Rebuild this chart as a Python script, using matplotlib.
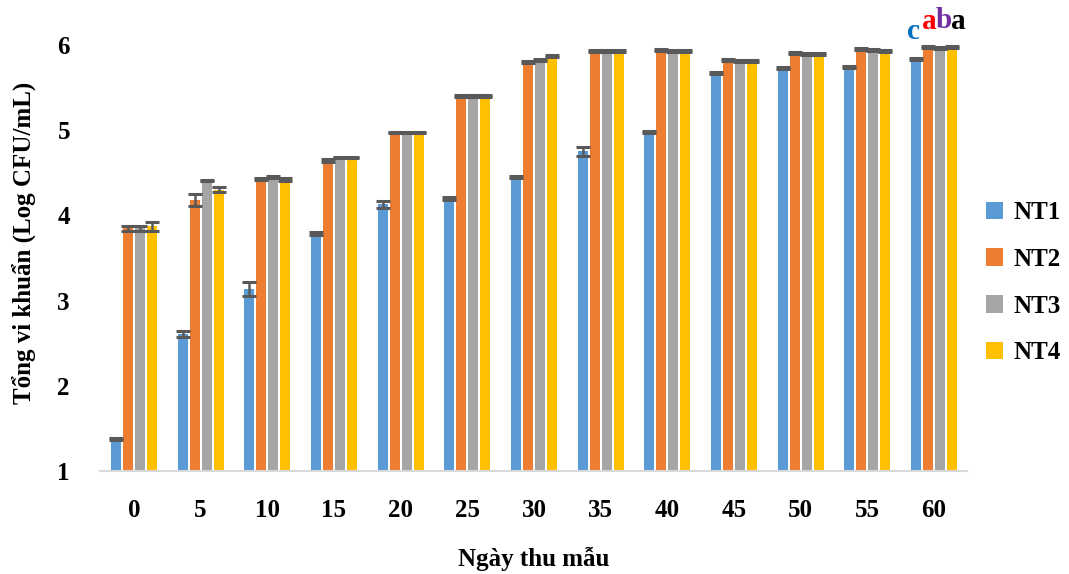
import matplotlib.pyplot as plt
import numpy as np

plt.rcParams['font.family'] = ['Liberation Serif', 'DejaVu Serif']
plt.rcParams['font.weight'] = 'bold'

days = ['0', '5', '10', '15', '20', '25', '30', '35', '40', '45', '50', '55', '60']
nt1 = [1.38, 2.61, 3.14, 3.79, 4.13, 4.20, 4.45, 4.75, 4.98, 5.67, 5.73, 5.74, 5.83]
nt2 = [3.85, 4.18, 4.43, 4.64, 4.97, 5.40, 5.80, 5.93, 5.94, 5.82, 5.90, 5.95, 5.97]
nt3 = [3.85, 4.41, 4.45, 4.68, 4.97, 5.40, 5.82, 5.93, 5.93, 5.81, 5.89, 5.94, 5.96]
nt4 = [3.87, 4.30, 4.42, 4.68, 4.97, 5.40, 5.87, 5.93, 5.93, 5.81, 5.89, 5.93, 5.97]
err1 = [0.01, 0.04, 0.08, 0.02, 0.04, 0.02, 0.01, 0.05, 0.01, 0.01, 0.01, 0.01, 0.01]
err2 = [0.03, 0.07, 0.01, 0.02, 0.01, 0.01, 0.01, 0.01, 0.01, 0.01, 0.01, 0.01, 0.01]
err3 = [0.03, 0.01, 0.01, 0.01, 0.01, 0.01, 0.01, 0.01, 0.01, 0.01, 0.01, 0.01, 0.01]
err4 = [0.05, 0.03, 0.02, 0.01, 0.01, 0.01, 0.01, 0.01, 0.01, 0.01, 0.01, 0.01, 0.01]
labels = ['NT1', 'NT2', 'NT3', 'NT4']
colors = ['#5B9BD5', '#ED7D31', '#A5A5A5', '#FFC000']
letters = ['c', 'a', 'b', 'a']
letter_colors = ['#0070C0', '#FF0000', '#7030A0', '#000000']

fig, ax = plt.subplots(figsize=(10.69, 5.74), dpi=100)
fig.subplots_adjust(left=0.094, right=0.905, top=0.974, bottom=0.179)

x = np.arange(len(days))
w = 0.15
step = 0.18
series = [nt1, nt2, nt3, nt4]
errs = [err1, err2, err3, err4]
for i in range(4):
    pos = x + (i - 1.5) * step
    base = 1
    ax.bar(pos, np.array(series[i]) - base, w, bottom=base, color=colors[i],
           label=labels[i], zorder=2,
           yerr=errs[i], error_kw=dict(ecolor='#595959', elinewidth=1.8,
                                      capsize=5, capthick=2.2))

# significance letters over day 60
last = len(days) - 1
letter_dx = [-0.31, -0.07, 0.15, 0.37]
letter_y = [6.15, 6.27, 6.28, 6.27]
for i in range(4):
    ax.text(last + letter_dx[i], letter_y[i], letters[i], color=letter_colors[i],
            fontsize=21, ha='center', va='center', fontweight='bold')

ax.set_ylim(1, 6.35)
ax.set_xlim(-0.5, len(days) - 0.5)
ax.set_yticks([1, 2, 3, 4, 5, 6])
ax.set_xticks(x)
ax.set_xticklabels(days)
ax.tick_params(axis='x', length=0, labelsize=18, pad=20)
ax.tick_params(axis='y', length=0, labelsize=18, pad=22)
for s in ['top', 'right', 'left']:
    ax.spines[s].set_visible(False)
ax.spines['bottom'].set_color('#D9D9D9')
ax.spines['bottom'].set_linewidth(1.5)

ax.set_xlabel('Ngày thu mẫu', fontsize=18, fontweight='bold', labelpad=18)
ax.set_ylabel('Tổng vi khuẩn (Log CFU/mL)', fontsize=18, fontweight='bold', labelpad=15)

ax.legend(loc='center left', bbox_to_anchor=(0.995, 0.413), frameon=False,
          prop={'size': 18, 'weight': 'bold'}, handlelength=0.7, handleheight=0.7,
          handletextpad=0.4, labelspacing=0.95)

fig.savefig('out.png')
